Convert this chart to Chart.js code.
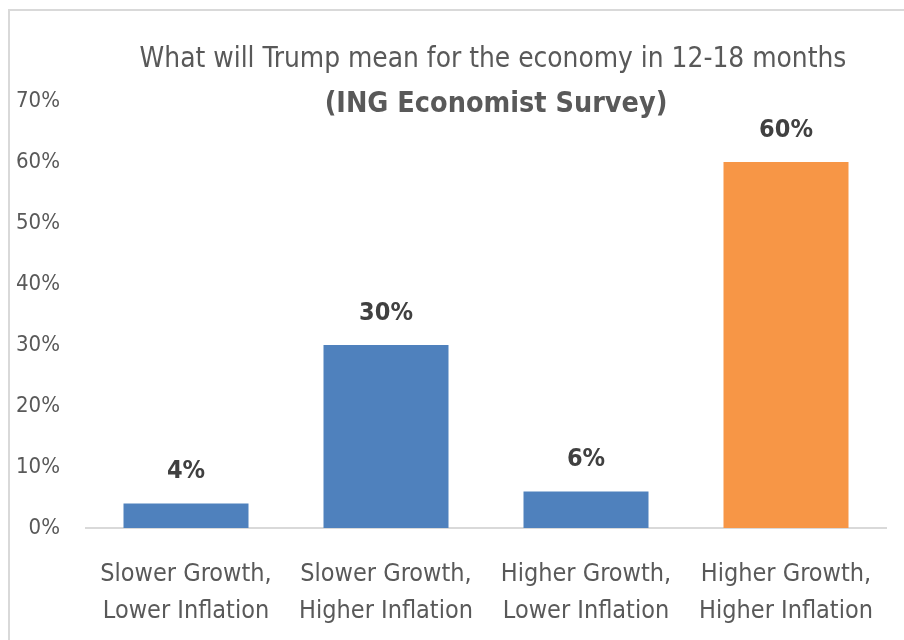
<!DOCTYPE html>
<html>
<head>
<meta charset="utf-8">
<script src="https://cdn.jsdelivr.net/npm/chart.js@4.4.1/dist/chart.umd.min.js"></script>
<style>
    html, body { margin: 0; padding: 0; background: #fff; }
    #wrap { position: relative; width: 904px; height: 640px; overflow: hidden; }
    #frame { position: absolute; left: 8px; top: 9px; width: 920px; height: 700px; border-top: 2px solid #d9d9d9; border-left: 2px solid #d9d9d9; box-sizing: border-box; }
    canvas { position: absolute; left: 0; top: 0; }
</style>
</head>
<body>
<div id="wrap">
    <div id="frame"></div>
    <canvas id="chart" width="904" height="640"></canvas>
</div>
<script>
// chart data
const categories = [
    ['Slower Growth,', 'Lower Inflation'],
    ['Slower Growth,', 'Higher Inflation'],
    ['Higher Growth,', 'Lower Inflation'],
    ['Higher Growth,', 'Higher Inflation'],
];
const shares = [4, 30, 6, 60];
const barColors = ['#4f81bd', '#4f81bd', '#4f81bd', '#f79646'];
const titleLines = ['What will Trump mean for the economy in 12-18 months', '(ING Economist Survey)'];

const FONT = "'Liberation Sans Narrow', 'DejaVu Sans Condensed', sans-serif";

const barLabels = {
    id: 'barLabels',
    afterDatasetsDraw(chart) {
        const { ctx } = chart;
        const meta = chart.getDatasetMeta(0);
        ctx.save();
        ctx.font = `bold 25px ${FONT}`;
        ctx.fillStyle = '#404040';
        ctx.textAlign = 'center';
        ctx.textBaseline = 'middle';
        meta.data.forEach((bar, i) => {
            ctx.fillText(`${shares[i]}%`, bar.x, bar.y - 32);
        });
        ctx.restore();
    },
};

const headline = {
    id: 'headline',
    afterDraw(chart) {
        const { ctx, chartArea } = chart;
        const cx = (chartArea.left + chartArea.right) / 2 + 7;
        ctx.save();
        ctx.fillStyle = '#595959';
        ctx.textAlign = 'center';
        ctx.textBaseline = 'middle';
        ctx.font = `27.8px ${FONT}`;
        ctx.fillText(titleLines[0], cx, 60);
        ctx.font = `bold 28.5px ${FONT}`;
        ctx.fillText(titleLines[1], cx + 3, 105);
        ctx.restore();
    },
};

new Chart(document.getElementById('chart'), {
    type: 'bar',
    data: {
        labels: categories,
        datasets: [{
            data: shares,
            backgroundColor: barColors,
            barPercentage: 0.625,
            categoryPercentage: 1,
        }],
    },
    options: {
        responsive: false,
        animation: false,
        layout: { padding: { top: 101, right: 18, left: 0, bottom: 0 } },
        plugins: {
            legend: { display: false },
            tooltip: { enabled: false },
        },
        scales: {
            y: {
                min: 0,
                max: 70,
                ticks: {
                    stepSize: 10,
                    padding: 26,
                    color: '#595959',
                    font: { family: FONT, size: 22 },
                    callback: (v) => `${v}%`,
                },
                grid: { display: false, drawTicks: false },
                border: { display: false },
                afterFit(scale) { scale.width = 86; },
            },
            x: {
                ticks: {
                    padding: 28,
                    color: '#595959',
                    maxRotation: 0,
                    font: { family: FONT, size: 25, lineHeight: 1.48 },
                },
                grid: { display: false, drawTicks: false },
                border: { color: '#d9d9d9', width: 2 },
                afterFit(scale) { scale.height = 112; },
            },
        },
    },
    plugins: [barLabels, headline],
});
</script>
</body>
</html>
